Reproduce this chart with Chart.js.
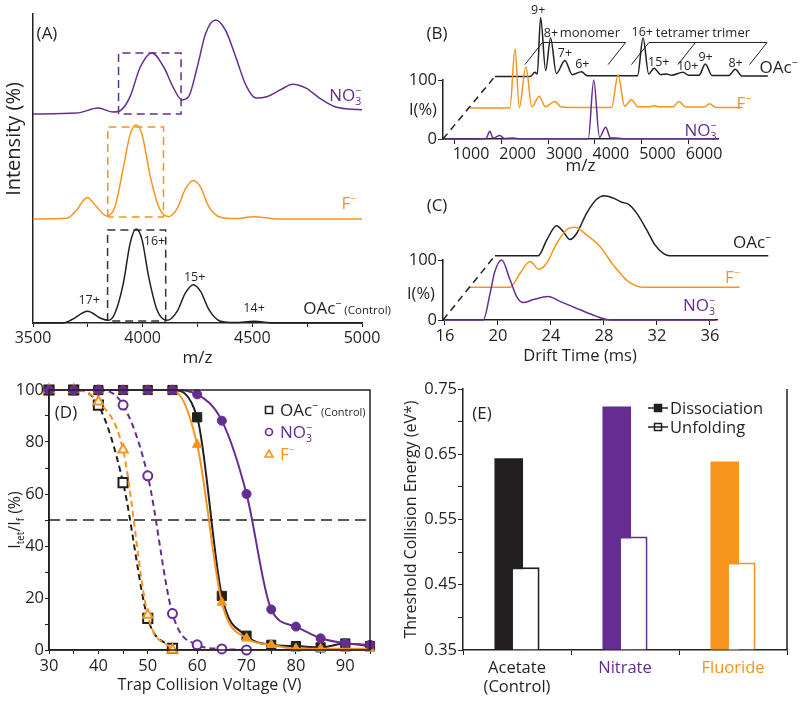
<!DOCTYPE html>
<html>
<head>
<meta charset="utf-8">
<script src="https://cdn.jsdelivr.net/npm/chart.js@4.4.1/dist/chart.umd.min.js"></script>
<style>
body { margin: 0; background: #fff; width: 800px; height: 707px; overflow: hidden; position: relative; }
canvas { position: absolute; }
</style>
</head>
<body>
<canvas id="pA" width="400" height="370" style="left:0;top:0"></canvas>
<canvas id="pB" width="400" height="180" style="left:400px;top:0"></canvas>
<canvas id="pC" width="400" height="190" style="left:400px;top:180px"></canvas>
<canvas id="pD" width="400" height="337" style="left:0;top:370px"></canvas>
<canvas id="pE" width="400" height="337" style="left:400px;top:370px"></canvas>
<script>
var INK = '#231f20', PURPLE = '#662d91', ORANGE = '#f7941d', GREY = '#333333';
var FONT = "'Open Sans', 'DejaVu Sans', sans-serif";

// ---- (A) tetramer region, [m/z, relative intensity] ----
var aNo3 = [[3500,0],[3699,1],[3798,6.3],[3866,2],[3904,4.6],[3943,18.7],[3989,50],[4042,65],[4096,50],[4141,27.5],[4179,15],[4210,18.7],[4249,50],[4287,85.6],[4332,100],[4378,89],[4424,61],[4470,31],[4516,17],[4569,18.7],[4630,26],[4684,31.7],[4745,27.5],[4806,17],[4874,8],[4935,5.3],[5000,4.6]];
var aF = [[3500,0],[3653,0.7],[3699,9.5],[3747,23],[3790,13],[3836,3.2],[3874,13],[3912,55],[3943,90],[3970,100],[3997,90],[4035,45],[4073,13],[4118,2.5],[4157,11],[4195,32],[4230,41],[4264,34],[4302,13],[4355,1.8],[4416,0.4],[4508,2.5],[4615,0],[5000,0]];
var aOac = [[3500,0],[3637,0],[3676,3.5],[3749,12.4],[3806,5.3],[3844,2.8],[3874,10.6],[3912,42.5],[3943,85],[3970,100],[3997,88.7],[4027,49.6],[4065,14.2],[4111,2.8],[4157,12.4],[4195,32],[4230,40.8],[4264,33.7],[4302,14.2],[4355,1.8],[4420,0.4],[4508,1.8],[4600,0],[5000,0]];
var aTicks = [3500, 3750, 4000, 4250, 4500, 4750, 5000];
// selected 16+ window: [m/z from, m/z to, low, high]
var aBoxNo3 = [3890, 4175, 0, 65];
var aBoxF = [3841, 4095, 2, 98];
var aBoxOac = [3840, 4105, 2, 99];
var aCharges = [['17+', 3756, 25.5], ['16+', 4054, 88], ['15+', 4237, 49], ['14+', 4508, 16]];

// ---- (B) full spectra, [m/z, I(%)] ----
var bNo3 = [[743,0],[1660,0.5],[1749,13],[1815,1.5],[1964,6],[2060,1],[2249,1.5],[2400,0.5],[3860,0.5],[3976,100],[4100,3],[4233,20],[4340,1.5],[4426,1.8],[4600,0.6],[6642,0.3]];
var bF = [[743,0],[1600,0.5],[1707,100],[1800,1],[1942,70],[2070,2],[2227,20],[2360,2],[2563,11],[2700,1.5],[3000,1],[3780,1],[3919,56],[4060,3],[4205,14],[4350,2],[4580,2],[4683,4],[4800,2],[5100,2],[5225,11],[5370,1.5],[5760,1.5],[5882,7],[6020,1],[6596,1]];
var bOac = [[743,0],[1500,0],[1600,7],[1650,4],[1721,100],[1830,10],[1935,65],[2060,5],[2242,27],[2400,3],[2599,8],[2720,1],[3800,1],[3919,65],[4040,4],[4154,14],[4300,3],[4419,4],[4530,2],[4775,7],[4900,2],[5120,2],[5254,21],[5400,1.5],[5760,1.5],[5897,12],[6040,0.5],[6596,0.5]];
var bTicks = [1000, 2000, 3000, 4000, 5000, 6000];
var bCharges = [['9+',1670,113],['8+',1942,74],['7+',2242,40],['6+',2617,21.5],['16+',3901,76],['15+',4255,25],['10+',4876,18.6],['9+',5261,33],['8+',5904,24]];
var bOligomers = [['monomer',2777,74],['tetramer',4769,74],['trimer',5807,74]];
var bBrackets = [[1385, 3169], [3670, 4668, 6203]];
var bBracketLevel = 20;

// ---- (C) arrival time distributions, [ms, I(%)] ----
var cNo3 = [[15.85,0],[18.89,0],[19.4,44],[19.75,80],[20.28,100],[20.91,67],[21.41,39],[21.91,29],[22.67,34],[23.8,39],[24.68,31],[26.19,17],[27.45,6],[28.2,1],[29,0],[36.4,0]];
var cF = [[15.85,0],[18.87,0],[19.62,23],[20.38,43],[21.05,30],[21.63,40],[22.39,73],[23.14,96],[23.77,100],[24.66,87],[25.66,68],[26.67,37],[27.67,12],[28.43,2],[28.93,0],[36.2,0]];
var cOac = [[15.85,0],[19.12,0],[19.75,26],[20.5,50],[21.0,40],[21.51,27],[22.01,37],[22.77,71],[23.52,94],[24.08,100],[24.78,96],[25.41,89],[25.91,86],[26.54,71],[27.3,43],[27.92,18],[28.55,4],[29.06,0],[36.48,0]];
var cTicks = [16, 20, 24, 28, 32, 36];

// ---- (D) CIU / CID curves ----
var dVolt = [30, 35, 40, 45, 50, 55, 60, 65, 70, 75, 80, 85, 90, 95];
var dOacDiss = [100, 100, 100, 100, 100, 100, 89.5, 20.8, 5.5, 2, 1.5, 1, 2.5, 1.5];
var dNo3Diss = [100, 100, 100, 100, 100, 100, 98.3, 88.2, 60, 15.6, 9, 4.5, 2.6, 2];
var dFDiss = [100, 100, 100, 100, 100, 100, 79, 18.3, 4.5, 2, 0.5, 0.5, 0.5, 0.5];
var dOacUnf = [100, 100, 94.2, 64.4, 12.2, 0.6];
var dNo3Unf = [100, 100, 100, 94.2, 67, 14, 2, 0.4, 0];
var dFUnf = [100, 100, 95.5, 77, 13.5, 0];
var dHalf = 50;
var dXTicks = [30, 35, 40, 45, 50, 55, 60, 65, 70, 75, 80, 85, 90, 95];
var dYTicks = [0, 10, 20, 30, 40, 50, 60, 70, 80, 90, 100];

// ---- (E) threshold energies ----
var eCats = [['Acetate', '(Control)'], 'Nitrate', 'Fluoride'];
var eDiss = [0.644, 0.723, 0.639];
var eUnf = [0.477, 0.524, 0.484];
var eColors = [INK, PURPLE, ORANGE];
var eYTicks = [0.35, 0.40, 0.45, 0.50, 0.55, 0.60, 0.65, 0.70, 0.75];
var eYMin = 0.35, eYMax = 0.75;

Chart.defaults.font.family = FONT;
Chart.defaults.font.size = 16;
Chart.defaults.color = INK;
Chart.defaults.animation = false;
Chart.defaults.events = [];
Chart.defaults.plugins.legend.display = false;
Chart.defaults.plugins.tooltip.enabled = false;

// little helpers
function fixTicks(vals) { return function(s) { s.ticks = vals.map(function(v) { return {value: v}; }); }; }
function fixW(w) { return function(s) { s.width = w; }; }
function fixH(h) { return function(s) { s.height = h; }; }
function lockRange(r) { return function(s) { s.min = r.min; s.max = r.max; }; }
function plain(v) { return String(v); }
// range of a scale whose drawing is moved by shiftPx along its own direction
function shifted(min, max, lenPx, shiftPx) {
	var k = (max - min) / lenPx;
	return {min: min - shiftPx * k, max: max - shiftPx * k};
}
function hidden(r) {
	return {type: 'linear', display: false, bounds: 'data', afterDataLimits: lockRange(r)};
}

// text with sub/superscripts: parts = [[text, mode, size]]
function put(ctx, parts, x, y, size, color, align) {
	ctx.save();
	ctx.fillStyle = color || INK;
	ctx.textBaseline = 'alphabetic';
	ctx.textAlign = 'left';
	var items = [], w = 0, prevStart = 0;
	parts.forEach(function(p) {
		var mode = p[1] || '';
		var fs = p[2] || (mode ? size * 0.62 : size);
		ctx.font = fs + 'px ' + FONT;
		var tw = ctx.measureText(p[0]).width;
		var px = mode === 'supover' ? prevStart : w;
		var dy = mode === 'sub' ? size * 0.24 : (mode === 'sup' || mode === 'supover') ? -size * 0.42 : 0;
		items.push({t: p[0], f: fs, x: px, dy: dy});
		if (mode === 'supover') { w = Math.max(w, px + tw); } else { prevStart = w; w += tw; }
	});
	var x0 = align === 'center' ? x - w / 2 : align === 'right' ? x - w : x;
	items.forEach(function(it) {
		ctx.font = it.f + 'px ' + FONT;
		ctx.fillText(it.t, x0 + it.x, y + size * 0.36 + it.dy);
	});
	ctx.restore();
}
function putUp(ctx, parts, x, y, size, color) {
	ctx.save();
	ctx.translate(x, y);
	ctx.rotate(-Math.PI / 2);
	put(ctx, parts, 0, 0, size, color, 'center');
	ctx.restore();
}
function dashed(ctx, p0, p1, color, dash, width) {
	ctx.save();
	ctx.strokeStyle = color;
	ctx.lineWidth = width;
	ctx.setLineDash(dash);
	ctx.beginPath();
	ctx.moveTo(p0[0], p0[1]);
	ctx.lineTo(p1[0], p1[1]);
	ctx.stroke();
	ctx.restore();
}

var lblNo3 = [['NO'], ['3', 'sub'], ['\u2212', 'supover']];
var lblF = [['F'], ['\u2212', 'sup']];
var lblOac = [['OAc'], ['\u2212', 'sup']];

function trace(data, color, xId, yId) {
	return {type: 'line', data: data, borderColor: color, borderWidth: 1.5, pointRadius: 0,
		cubicInterpolationMode: 'monotone', capBezierPoints: false, fill: false,
		xAxisID: xId, yAxisID: yId, clip: false};
}
function box(b, color, yId) {
	return {type: 'line', data: [[b[0], b[2]], [b[0], b[3]], [b[1], b[3]], [b[1], b[2]], [b[0], b[2]]],
		borderColor: color, borderWidth: 1.5, borderDash: [8, 5], pointRadius: 0, tension: 0, fill: false,
		xAxisID: 'x', yAxisID: yId, clip: false};
}
var tickGrid = function(len) { return {drawOnChartArea: false, tickLength: len, color: INK}; };
var axisLine = {color: INK, width: 1.5};

// ================= (A) =================
var aPlotH = 309, aUnitPx = 0.94, aUnits = aPlotH / aUnitPx;
var aDecor = {
	id: 'aDecor',
	afterDraw: function(chart) {
		var ctx = chart.ctx, s = chart.scales;
		put(ctx, [['(A)']], 47, 33, 17, INK, 'center');
		// axis title sits above the middle of the axis, as in the figure
		putUp(ctx, [['Intensity (%)']], 13, 139, 20, INK);
		aCharges.forEach(function(c) {
			put(ctx, [[c[0]]], s.x.getPixelForValue(c[1]), s.y.getPixelForValue(c[2]), 12.5, INK, 'center');
		});
		put(ctx, lblNo3, s.x.getPixelForValue(4851), s.yN.getPixelForValue(20), 17, PURPLE, 'left');
		put(ctx, lblF, s.x.getPixelForValue(4906), s.yF.getPixelForValue(17), 17, ORANGE, 'left');
		put(ctx, lblOac.concat([[' (Control)', '', 11.5]]), s.x.getPixelForValue(4732), s.y.getPixelForValue(16), 17, INK, 'left');
	}
};
new Chart(document.getElementById('pA'), {
	type: 'line',
	data: {datasets: [
		trace(aNo3, PURPLE, 'x', 'yN'),
		trace(aF, ORANGE, 'x', 'yF'),
		trace(aOac, INK, 'x', 'y'),
		box(aBoxNo3, PURPLE, 'yN'),
		box(aBoxF, ORANGE, 'yF'),
		box(aBoxOac, GREY, 'y')
	]},
	options: {
		responsive: false, devicePixelRatio: 1,
		layout: {padding: {top: 14, right: 38, left: 0, bottom: 0}},
		scales: {
			x: {type: 'linear', min: 3500, max: 5000, afterBuildTicks: fixTicks(aTicks), afterFit: fixH(47),
				ticks: {autoSkip: false, maxRotation: 0, padding: 2, font: {size: 16},
					callback: function(v) { return v % 500 === 0 ? String(v) : ''; }},
				grid: tickGrid(4), border: axisLine,
				title: {display: true, text: 'm/z', font: {size: 17}, padding: {top: 0, bottom: 2}}},
			y: {type: 'linear', bounds: 'data', afterDataLimits: lockRange({min: 0, max: aUnits}), afterFit: fixW(33),
				ticks: {display: false}, grid: {display: false}, border: axisLine},
			yF: hidden(shifted(0, aUnits, aPlotH, 104)),
			yN: hidden(shifted(0, aUnits, aPlotH, 209))
		}
	},
	plugins: [aDecor]
});

// ================= (B) =================
var bMin = 743, bMax = 6642, bW = 275, bH = 59;
var bDecor = {
	id: 'bDecor',
	afterDraw: function(chart) {
		var ctx = chart.ctx, s = chart.scales, ca = chart.chartArea;
		var v0 = bNo3[0][0];
		var p0 = [s.x.getPixelForValue(v0), s.y.getPixelForValue(0)];
		var pF = [s.xF.getPixelForValue(v0), s.yF.getPixelForValue(0)];
		var pO = [s.xO.getPixelForValue(v0), s.yO.getPixelForValue(0)];
		dashed(ctx, p0, pO, INK, [7, 5], 1.5);
		// perspective brackets over the OAc trace
		var d = [(pO[0] - pF[0]) * 0.7, (pO[1] - pF[1]) * 0.7];
		ctx.save();
		ctx.strokeStyle = INK;
		ctx.lineWidth = 1;
		bBrackets.forEach(function(g) {
			var pts = g.map(function(v) { return [s.xO.getPixelForValue(v), s.yO.getPixelForValue(bBracketLevel)]; });
			ctx.beginPath();
			pts.forEach(function(p) { ctx.moveTo(p[0], p[1]); ctx.lineTo(p[0] + d[0], p[1] + d[1]); });
			ctx.moveTo(pts[0][0] + d[0], pts[0][1] + d[1]);
			ctx.lineTo(pts[pts.length - 1][0] + d[0], pts[pts.length - 1][1] + d[1]);
			ctx.stroke();
		});
		ctx.restore();
		bCharges.forEach(function(c) {
			put(ctx, [[c[0]]], s.xO.getPixelForValue(c[1]), s.yO.getPixelForValue(c[2]), 12.5, INK, 'center');
		});
		bOligomers.forEach(function(c) {
			put(ctx, [[c[0]]], s.xO.getPixelForValue(c[1]), s.yO.getPixelForValue(c[2]), 13, INK, 'center');
		});
		put(ctx, lblOac, s.xO.getPixelForValue(6418), s.yO.getPixelForValue(16), 17, INK, 'left');
		put(ctx, lblF, s.xF.getPixelForValue(6460), s.yF.getPixelForValue(9), 17, ORANGE, 'left');
		put(ctx, lblNo3, s.x.getPixelForValue(5925), s.y.getPixelForValue(15), 17, PURPLE, 'left');
		put(ctx, [['(B)']], 37, 33, 17, INK, 'center');
		put(ctx, [['I(%)']], ca.left - 20, (ca.top + ca.bottom) / 2, 16.5, INK, 'center');
	}
};
new Chart(document.getElementById('pB'), {
	type: 'line',
	data: {datasets: [
		trace(bNo3, PURPLE, 'x', 'y'),
		trace(bF, ORANGE, 'xF', 'yF'),
		trace(bOac, INK, 'xO', 'yO')
	]},
	options: {
		responsive: false, devicePixelRatio: 1,
		layout: {padding: {top: 80, right: 82, left: 0, bottom: 0}},
		scales: {
			x: {type: 'linear', min: bMin, max: bMax, afterBuildTicks: fixTicks(bTicks), afterFit: fixH(41),
				ticks: {autoSkip: false, maxRotation: 0, padding: 1, labelOffset: 16, font: {size: 16}, callback: plain},
				grid: tickGrid(5), border: axisLine,
				title: {display: true, text: 'm/z', font: {size: 17}, padding: {top: 0, bottom: 4}}},
			y: {type: 'linear', min: 0, max: 100, afterBuildTicks: fixTicks([0, 100]), afterFit: fixW(43),
				ticks: {padding: 1, font: {size: 16.5}, callback: plain}, grid: tickGrid(5), border: axisLine},
			xF: hidden(shifted(bMin, bMax, bW, 27)),
			yF: hidden(shifted(0, 100, bH, 31)),
			xO: hidden(shifted(bMin, bMax, bW, 52)),
			yO: hidden(shifted(0, 100, bH, 62.6))
		}
	},
	plugins: [bDecor]
});

// ================= (C) =================
var cMin = 15.85, cMax = 36.53, cW = 274, cH = 60;
var cDecor = {
	id: 'cDecor',
	afterDraw: function(chart) {
		var ctx = chart.ctx, s = chart.scales, ca = chart.chartArea;
		var v0 = cNo3[0][0];
		dashed(ctx, [s.x.getPixelForValue(v0), s.y.getPixelForValue(0)],
			[s.xO.getPixelForValue(v0), s.yO.getPixelForValue(0)], INK, [7, 5], 1.5);
		put(ctx, lblOac, s.xO.getPixelForValue(33.81), s.yO.getPixelForValue(22.8), 17, INK, 'left');
		put(ctx, lblF, s.xF.getPixelForValue(35.09), s.yF.getPixelForValue(17), 17, ORANGE, 'left');
		put(ctx, lblNo3, s.x.getPixelForValue(33.96), s.y.getPixelForValue(25), 17, PURPLE, 'left');
		put(ctx, [['(C)']], 37, 25, 17, INK, 'center');
		put(ctx, [['I(%)']], ca.left - 22, (ca.top + ca.bottom) / 2 + 3, 16.5, INK, 'center');
	}
};
new Chart(document.getElementById('pC'), {
	type: 'line',
	data: {datasets: [
		trace(cNo3, PURPLE, 'x', 'y'),
		trace(cF, ORANGE, 'xF', 'yF'),
		trace(cOac, INK, 'xO', 'yO')
	]},
	options: {
		responsive: false, devicePixelRatio: 1,
		layout: {padding: {top: 80, right: 83, left: 0, bottom: 0}},
		scales: {
			x: {type: 'linear', min: cMin, max: cMax, afterBuildTicks: fixTicks(cTicks), afterFit: fixH(50),
				ticks: {autoSkip: false, maxRotation: 0, padding: 1, font: {size: 16.5}, callback: plain},
				grid: tickGrid(5), border: axisLine,
				title: {display: true, text: 'Drift Time (ms)', font: {size: 16.5}, padding: {top: 0, bottom: 4}}},
			y: {type: 'linear', min: 0, max: 100, afterBuildTicks: fixTicks([0, 100]), afterFit: fixW(43),
				ticks: {padding: 1, font: {size: 16.5}, callback: plain}, grid: tickGrid(5), border: axisLine},
			xF: hidden(shifted(cMin, cMax, cW, 27)),
			yF: hidden(shifted(0, 100, cH, 32.7)),
			xO: hidden(shifted(cMin, cMax, cW, 52)),
			yO: hidden(shifted(0, 100, cH, 64.3))
		}
	},
	plugins: [cDecor]
});

// ================= (D) =================
function curve(vals, color, style, filled, dash, r) {
	return {type: 'line', data: vals.map(function(v, i) { return {x: dVolt[i], y: v}; }),
		borderColor: color, borderWidth: 2, borderDash: dash ? [6, 4] : [],
		cubicInterpolationMode: 'monotone', fill: false, clip: false,
		pointStyle: style, pointRadius: r, pointBorderColor: color,
		pointBackgroundColor: filled ? color : '#ffffff', pointBorderWidth: filled ? 1 : 2};
}
function marker(ctx, style, x, y, color) {
	ctx.save();
	ctx.strokeStyle = color;
	ctx.lineWidth = 1.6;
	ctx.beginPath();
	if (style === 'rect') ctx.rect(x - 3.5, y - 3.5, 7, 7);
	else if (style === 'circle') ctx.arc(x, y, 3.5, 0, Math.PI * 2);
	else { ctx.moveTo(x, y - 4); ctx.lineTo(x + 4, y + 3); ctx.lineTo(x - 4, y + 3); ctx.closePath(); }
	ctx.stroke();
	ctx.restore();
}
var dDecor = {
	id: 'dDecor',
	afterDraw: function(chart) {
		var ctx = chart.ctx, ca = chart.chartArea;
		ctx.save();
		ctx.strokeStyle = INK;
		ctx.lineWidth = 1.5;
		ctx.strokeRect(ca.left, ca.top, ca.right - ca.left, ca.bottom - ca.top);
		ctx.restore();
		put(ctx, [['(D)']], ca.left + 17, ca.top + 22, 17, INK, 'center');
		var lx = ca.left + 220, tx = ca.left + 231;
		marker(ctx, 'rect', lx, ca.top + 20, INK);
		put(ctx, lblOac.concat([[' (Control)', '', 11]]), tx, ca.top + 20, 17, INK, 'left');
		marker(ctx, 'circle', lx, ca.top + 42, PURPLE);
		put(ctx, lblNo3, tx, ca.top + 42, 17, PURPLE, 'left');
		marker(ctx, 'triangle', lx, ca.top + 64, ORANGE);
		put(ctx, lblF, tx, ca.top + 64, 17, ORANGE, 'left');
		putUp(ctx, [['I'], ['tet', 'sub'], ['/I'], ['f', 'sub'], [' (%)']], 14, (ca.top + ca.bottom) / 2, 16, INK);
	}
};
new Chart(document.getElementById('pD'), {
	type: 'line',
	data: {datasets: [
		curve(dNo3Diss, PURPLE, 'circle', true, false, 4.5),
		curve(dFDiss, ORANGE, 'triangle', true, false, 5.5),
		curve(dOacDiss, INK, 'rect', true, false, 6.5),
		curve(dNo3Unf, PURPLE, 'circle', false, true, 4.5),
		curve(dFUnf, ORANGE, 'triangle', false, true, 5.5),
		curve(dOacUnf, INK, 'rect', false, true, 6.5),
		{type: 'line', data: [{x: dVolt[0], y: dHalf}, {x: dVolt[dVolt.length - 1], y: dHalf}],
			borderColor: INK, borderWidth: 1.3, borderDash: [11, 6], pointRadius: 0, fill: false}
	]},
	options: {
		responsive: false, devicePixelRatio: 1,
		layout: {padding: {top: 20, right: 30, left: 0, bottom: 0}},
		scales: {
			x: {type: 'linear', min: 30, max: 95, afterBuildTicks: fixTicks(dXTicks), afterFit: fixH(57),
				ticks: {autoSkip: false, maxRotation: 0, padding: 2, font: {size: 16.5},
					callback: function(v) { return v % 10 === 0 ? String(v) : ''; }},
				grid: tickGrid(4), border: axisLine,
				title: {display: true, text: 'Trap Collision Voltage (V)', font: {size: 16}, padding: {top: 0, bottom: 12}}},
			y: {type: 'linear', min: 0, max: 100, afterBuildTicks: fixTicks(dYTicks), afterFit: fixW(49),
				ticks: {autoSkip: false, padding: 1, font: {size: 16.5},
					callback: function(v) { return v % 20 === 0 ? String(v) : ''; }},
				grid: tickGrid(4), border: axisLine}
		}
	},
	plugins: [dDecor]
});

// ================= (E) =================
var eDecor = {
	id: 'eDecor',
	// open (unfolding) bars go over the filled ones
	beforeDatasetDraw: function(chart, args) { if (args.index === 1) return false; },
	afterDatasetsDraw: function(chart) {
		chart.getDatasetMeta(1).data.forEach(function(el) { el.draw(chart.ctx); });
	},
	afterDraw: function(chart) {
		var ctx = chart.ctx, ca = chart.chartArea;
		ctx.save();
		ctx.strokeStyle = INK;
		ctx.lineWidth = 1.5;
		ctx.beginPath();
		ctx.moveTo(ca.right, ca.top);
		ctx.lineTo(ca.right, ca.bottom);
		ctx.stroke();
		ctx.restore();
		put(ctx, [['(E)']], ca.left + 19, ca.top + 24, 17, INK, 'center');
		var lx = ca.left + 185, tx = ca.left + 207;
		[['Dissociation', true, 19], ['Unfolding', false, 38]].forEach(function(it) {
			var y = ca.top + it[2];
			ctx.save();
			ctx.strokeStyle = INK;
			ctx.lineWidth = 1.5;
			ctx.beginPath();
			ctx.moveTo(lx, y);
			ctx.lineTo(lx + 20, y);
			ctx.stroke();
			ctx.fillStyle = it[1] ? INK : '#ffffff';
			ctx.fillRect(lx + 6.5, y - 3.5, 7, 7);
			ctx.strokeRect(lx + 6.5, y - 3.5, 7, 7);
			if (!it[1]) { ctx.beginPath(); ctx.moveTo(lx + 6.5, y); ctx.lineTo(lx + 13.5, y); ctx.stroke(); }
			ctx.restore();
			put(ctx, [[it[0]]], tx, y, 16.5, INK, 'left');
		});
	}
};
new Chart(document.getElementById('pE'), {
	type: 'bar',
	data: {labels: eCats, datasets: [
		{label: 'Dissociation', data: eDiss, base: eYMin, backgroundColor: eColors, borderWidth: 0,
			barPercentage: 1.73, categoryPercentage: 0.306},
		{label: 'Unfolding', data: eUnf, base: eYMin, backgroundColor: '#ffffff', borderColor: eColors, borderWidth: 2,
			barPercentage: 1.73, categoryPercentage: 0.306}
	]},
	options: {
		responsive: false, devicePixelRatio: 1,
		layout: {padding: {top: 19, right: 13, left: 0, bottom: 0}},
		scales: {
			x: {afterFit: fixH(57), grid: {drawOnChartArea: false, tickLength: 5, color: INK, offset: true},
				border: axisLine,
				ticks: {padding: 3, font: {size: 16.5}, color: function(c) { return eColors[c.index]; }}},
			y: {type: 'linear', min: eYMin, max: eYMax, afterBuildTicks: fixTicks(eYTicks), afterFit: fixW(63),
				ticks: {autoSkip: false, padding: 1, font: {size: 16.5},
					callback: function(v) { return Math.round(v * 100) % 10 === 5 ? v.toFixed(2) : ''; }},
				grid: tickGrid(5), border: axisLine,
				title: {display: true, text: 'Threshold Collision Energy (eV*)', font: {size: 16}, padding: {top: 2, bottom: 0}}}
		}
	},
	plugins: [eDecor]
});
</script>
</body>
</html>
